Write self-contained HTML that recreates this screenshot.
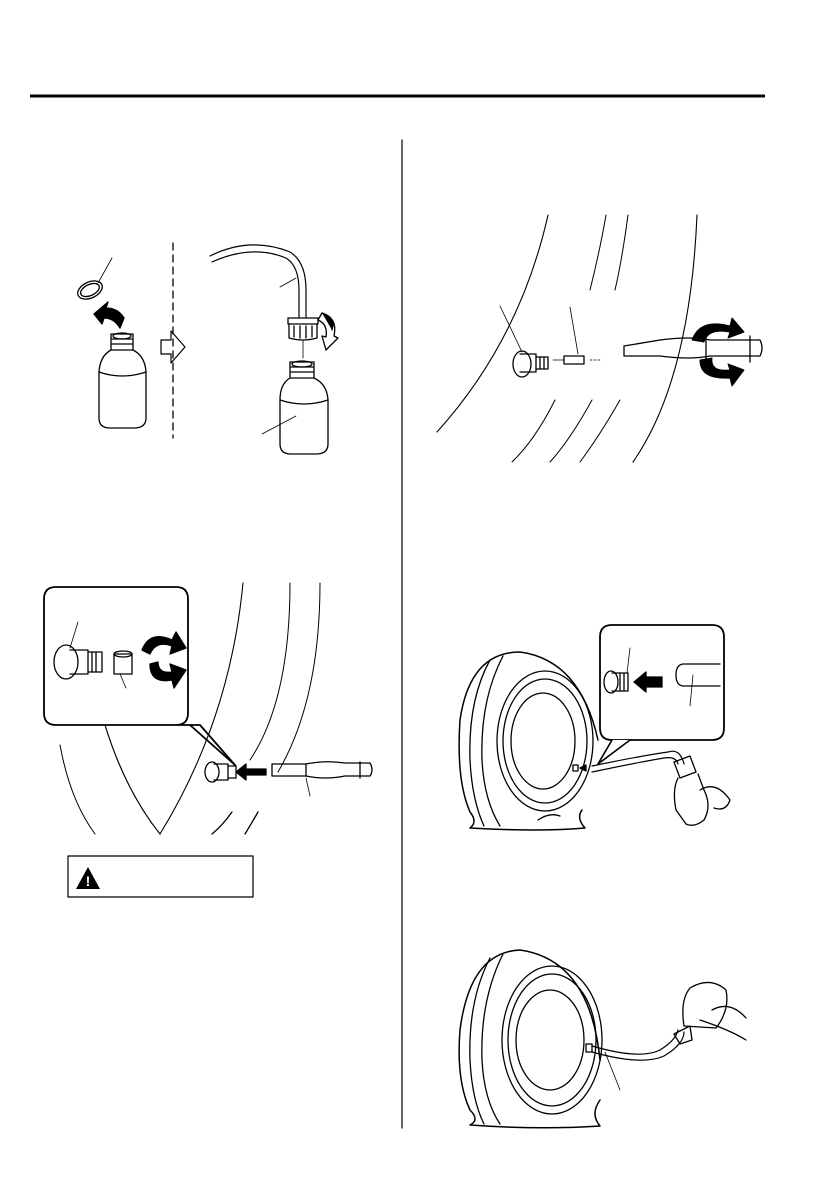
<!DOCTYPE html>
<html><head><meta charset="utf-8"><style>
html,body{margin:0;padding:0;background:#fff}
svg{display:block}
</style></head><body>
<svg width="840" height="1192" viewBox="0 0 840 1192" xmlns="http://www.w3.org/2000/svg" fill="none" stroke="#000" stroke-width="1.3" stroke-linecap="round" stroke-linejoin="round">
<!-- header rule -->
<line x1="30" y1="96" x2="765" y2="96" stroke-width="3" stroke-linecap="butt"/>
<!-- divider -->
<line x1="402" y1="140" x2="402" y2="1128" stroke-width="1.2"/>

<!-- ===== Fig 1: bottles ===== -->
<line x1="173" y1="243" x2="173" y2="438" stroke-dasharray="7,5"/>
<!-- ring -->
<ellipse cx="90" cy="290" rx="13" ry="8" transform="rotate(-25 90 290)"/>
<ellipse cx="90" cy="290" rx="10" ry="5.5" transform="rotate(-25 90 290)"/>
<line x1="98" y1="283" x2="112" y2="258" stroke-width="0.8"/>
<!-- curved black arrow -->
<path d="M94 314 L108 302 L106 308 Q118 308 124 318 L120 328 Q114 318 104 318 L102 324 Z" fill="#000"/>
<!-- bottle 1 -->
<path d="M111 334 h22 v16 h-22 z"/>
<line x1="112" y1="339" x2="132" y2="339"/><line x1="112" y1="344" x2="132" y2="344"/>
<ellipse cx="122" cy="336" rx="9" ry="3"/>
<path d="M111 350 Q100 356 99 372 V418 Q99 428 110 428 H134 Q146 428 146 418 V372 Q145 356 133 350"/>
<path d="M99 372 Q122 380 146 372"/>
<!-- hollow arrow -->
<path d="M161 340 h10 v-9 l14 16 l-14 16 v-9 h-10 z" stroke-width="1.2"/>
<!-- tube -->
<path d="M210 256 Q250 236 290 252 Q306 262 306 290 V317" stroke-width="1.2"/>
<path d="M212 262 Q252 244 286 258 Q299 266 299 290 V317" stroke-width="1.2"/>
<line x1="280" y1="287" x2="296" y2="278" stroke-width="0.8"/>
<!-- cap -->
<path d="M288 318 h30 v6 h-30 z"/>
<path d="M289 324 v14 q14 4 28 0 v-14"/>
<line x1="294" y1="326" x2="294" y2="337"/><line x1="300" y1="326" x2="300" y2="338"/><line x1="306" y1="326" x2="306" y2="338"/><line x1="312" y1="326" x2="312" y2="337"/>
<line x1="303" y1="340" x2="303" y2="358" stroke-width="0.8"/>
<!-- curved arrow right -->
<path d="M322 313 Q338 318 334 336 L338 338 L326 350 L322 336 L326 337 Q328 324 318 320 Z" stroke-width="1.3"/>
<path d="M322 313 Q336 318 332 330" fill="#000"/>
<!-- bottle 2 -->
<path d="M290 362 h24 v16 h-24 z"/>
<ellipse cx="302" cy="364" rx="10" ry="3"/>
<line x1="291" y1="367" x2="313" y2="367"/><line x1="291" y1="372" x2="313" y2="372"/>
<path d="M290 378 Q280 384 280 400 V444 Q280 454 291 454 H316 Q328 454 328 444 V400 Q327 384 314 378"/>
<path d="M280 400 Q304 408 328 400"/>
<line x1="262" y1="434" x2="296" y2="416" stroke-width="0.8"/>

<!-- ===== Fig 2: valve core removal (top right) ===== -->
<path d="M548 215 Q520 340 437 432" stroke-width="1.1"/>
<path d="M606 215 Q600 250 590 290" stroke-width="1"/>
<path d="M628 215 Q622 260 615 290" stroke-width="1"/>
<path d="M697 215 Q690 380 633 462" stroke-width="1.1"/>
<path d="M592 400 Q570 440 550 462" stroke-width="1"/>
<path d="M620 400 Q600 435 580 462" stroke-width="1"/>
<path d="M555 400 Q535 440 512 462" stroke-width="1"/>
<!-- valve -->
<ellipse cx="522" cy="364" rx="9" ry="13"/>
<path d="M520 354 h16 v18 h-16"/>
<path d="M536 357 h12 v12 h-12"/>
<line x1="540" y1="357" x2="540" y2="369"/><line x1="544" y1="357" x2="544" y2="369"/>
<line x1="500" y1="306" x2="522" y2="352" stroke-width="0.8"/>
<!-- core -->
<path d="M564 356 h20 v8 h-20 z"/>
<line x1="553" y1="360" x2="564" y2="360" stroke-width="0.8"/>
<line x1="570" y1="307" x2="578" y2="354" stroke-width="0.8"/>
<line x1="590" y1="360" x2="602" y2="360" stroke-dasharray="2,2" stroke-width="0.8"/>
<!-- tool -->
<path d="M624 346 L660 340 Q690 336 710 340 L760 340 Q764 348 760 356 L710 356 Q690 360 660 356 L624 356 Z"/>
<line x1="706" y1="336" x2="706" y2="362"/><line x1="750" y1="336" x2="750" y2="362"/>
<!-- rotate arrows -->
<path d="M692 340 Q700 318 730 326 L732 318 L744 332 L728 338 L730 332 Q708 328 704 342 Z" fill="#000" stroke-width="1"/>
<path d="M700 360 Q700 380 730 378 L732 386 L744 370 L728 364 L730 370 Q710 372 712 358 Z" fill="#000" stroke-width="1"/>

<!-- ===== Fig 3: valve cap removal (mid left) ===== -->
<path d="M243 583 Q230 720 160 834" stroke-width="1.1"/>
<path d="M290 583 Q290 700 250 760" stroke-width="1"/>
<path d="M320 583 Q320 700 278 772" stroke-width="1"/>
<path d="M232 812 Q222 826 212 834"/><path d="M258 812 Q250 826 245 834"/>
<path d="M60 745 Q70 800 95 834" stroke-width="1"/>
<path d="M105 725 Q125 790 160 834" stroke-width="1.2"/>
<!-- callout box -->
<path d="M56 587 H176 Q188 587 188 599 V713 Q188 725 176 725 H200 L235 765 L190 725 M176 725 H56 Q44 725 44 713 V599 Q44 587 56 587" stroke-width="1.8"/>
<ellipse cx="66" cy="662" rx="12" ry="17"/>
<path d="M70 650 h18 v24 h-18"/>
<path d="M88 652 h14 v20 h-14"/>
<line x1="92" y1="652" x2="92" y2="672"/><line x1="96" y1="652" x2="96" y2="672"/>
<line x1="78" y1="622" x2="70" y2="648" stroke-width="0.8"/>
<path d="M114 654 h18 v20 h-18 z"/>
<ellipse cx="123" cy="654" rx="9" ry="3"/>
<line x1="120" y1="674" x2="126" y2="688" stroke-width="0.8"/>
<path d="M142 650 Q150 630 172 640 L176 632 L186 648 L170 654 L172 646 Q156 640 150 654 Z" fill="#000"/>
<path d="M150 664 Q150 684 172 680 L174 688 L186 670 L170 664 L172 672 Q158 674 158 662 Z" fill="#000"/>
<!-- small valve -->
<ellipse cx="212" cy="772" rx="7" ry="10"/>
<path d="M214 764 h14 v16 h-14"/>
<path d="M228 766 h8 v12 h-8"/>
<path d="M236 772 l10 -8 v5 h20 v6 h-20 v5 z" fill="#000"/>
<!-- tool -->
<path d="M272 764 H306 Q325 760 345 763 H370 Q374 770 370 776 H345 Q325 780 306 776 H272 Z"/>
<line x1="306" y1="764" x2="306" y2="776"/><line x1="360" y1="762" x2="360" y2="778"/>
<line x1="306" y1="778" x2="310" y2="796" stroke-width="0.8"/>

<!-- warning box -->
<rect x="68" y="856" width="185" height="41" stroke-width="1.2"/>
<path d="M88 867 L100 889 H76 Z" fill="#000" stroke="none"/>
<text x="88" y="886" font-family="Liberation Sans, sans-serif" font-size="14" font-weight="bold" fill="#fff" stroke="none" text-anchor="middle">!</text>

<!-- ===== Fig 4: tire w/ bottle ===== -->
<path d="M598 740 Q580 660 520 652 Q470 652 460 720 Q456 780 470 812 Q478 822 470 828 Q540 832 585 828 Q576 818 582 810" stroke-width="1.5"/>
<path d="M490 660 Q468 700 470 760 Q472 800 484 826"/>
<path d="M503 656 Q480 700 482 760 Q484 800 500 826"/>
<ellipse cx="545" cy="741" rx="48" ry="70"/>
<ellipse cx="545" cy="741" rx="42" ry="62"/>
<ellipse cx="543" cy="741" rx="32" ry="48"/>
<path d="M538 820 Q550 812 560 816"/>
<rect x="573" y="765" width="5" height="6"/>
<path d="M580 768 l6 -3 v6 z" fill="#000"/>
<!-- callout -->
<path d="M612 625 H712 Q724 625 724 637 V728 Q724 740 712 740 H612 Q600 740 600 728 V637 Q600 625 612 625 Z" stroke-width="1.8"/>
<path d="M612 740 L598 764 L630 740" fill="#fff" stroke-width="1.6"/>
<ellipse cx="611" cy="682" rx="7" ry="11"/>
<path d="M612 673 h16 v18 h-16"/>
<line x1="620" y1="673" x2="620" y2="691"/><line x1="624" y1="673" x2="624" y2="691"/>
<line x1="630" y1="648" x2="627" y2="673" stroke-width="0.8"/>
<path d="M634 682 l12 -10 v5 h16 v10 h-16 v5 z" fill="#000"/>
<path d="M720 664 H684 Q676 664 676 675 Q676 686 684 686 H720"/>
<line x1="693" y1="675" x2="690" y2="706" stroke-width="0.8"/>
<!-- hose + bottle -->
<path d="M592 766 Q640 756 668 752 Q680 748 684 764" stroke-width="1.2"/>
<path d="M592 772 Q640 762 664 758 Q676 756 678 764" stroke-width="1.2"/>
<path d="M674 762 L690 756 L696 772 L680 778 Z"/>
<path d="M678 778 Q672 790 676 810 L686 824 Q694 828 704 820 Q712 806 704 790 L698 774"/>
<path d="M700 790 Q716 780 730 800 Q726 812 714 808"/>

<!-- ===== Fig 5: tire with bottle upside ===== -->
<path d="M600 1060 Q590 960 520 950 Q470 952 460 1030 Q456 1080 470 1110 Q480 1120 470 1125 Q540 1130 600 1126 Q590 1114 600 1100" stroke-width="1.5"/>
<path d="M490 958 Q468 1000 470 1060 Q472 1100 484 1124"/>
<path d="M503 954 Q480 1000 482 1060 Q484 1100 500 1124"/>
<ellipse cx="552" cy="1040" rx="50" ry="74"/>
<ellipse cx="552" cy="1040" rx="44" ry="66"/>
<ellipse cx="550" cy="1040" rx="34" ry="50"/>
<rect x="586" y="1044" width="6" height="8"/>
<path d="M592 1046 Q640 1060 660 1050 Q676 1040 678 1030" stroke-width="1.2"/>
<path d="M592 1052 Q642 1066 664 1056 Q684 1044 684 1032" stroke-width="1.2"/>
<path d="M674 1034 L690 1026 L692 1040 L680 1044 Z"/>
<path d="M684 1026 Q680 1000 690 988 Q710 976 726 990 Q730 1010 716 1028 Z"/>
<path d="M712 1010 Q730 1000 746 1018"/><path d="M700 1020 Q730 1030 746 1040"/>
<line x1="605" y1="1052" x2="620" y2="1090" stroke-width="0.8"/>
</svg>
</body></html>
